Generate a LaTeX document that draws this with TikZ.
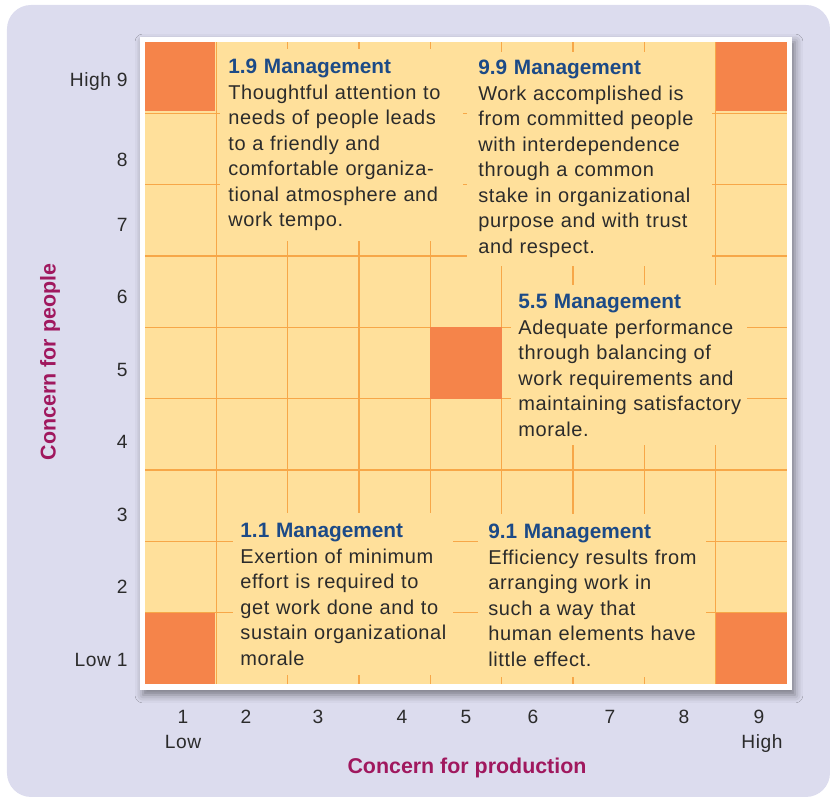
\documentclass[tikz,border=0pt]{standalone}
\usepackage{fontspec}
\setmainfont{Liberation Sans}
\newfontfamily\trackedfont[LetterSpace=3]{Liberation Sans}
\usetikzlibrary{shadows.blur}
\definecolor{panel}{HTML}{DCDCEE}
\definecolor{gridfill}{HTML}{FFE09B}
\definecolor{gridline}{HTML}{F7A748}
\definecolor{hotorange}{HTML}{F5844A}
\definecolor{titleblue}{HTML}{1C4A87}
\definecolor{axismagenta}{HTML}{A0185E}
\definecolor{bodygray}{HTML}{2B2B2B}
\newcommand{\blocktext}{\trackedfont\fontsize{10}{12.75}\selectfont\spaceskip=5.3pt plus 1pt minus 0.5pt\relax}
\newcommand{\axisfont}{\trackedfont\fontsize{9.6}{12}\selectfont}
\newcommand{\axistitlefont}{\bfseries\fontsize{10.7}{12}\selectfont}
\newcommand{\mgmt}[1]{{\normalfont\bfseries\fontsize{10.4}{12.75}\selectfont\color{titleblue}#1}}
\tikzset{
  mgmtbox/.style={fill=gridfill,text=bodygray,font=\blocktext,align=left,anchor=north west,inner ysep=5pt},
  gline/.style={draw=gridline,line width=0.75pt},
  hotcell/.style={fill=hotorange},
  axnum/.style={font=\axisfont,text=bodygray,inner sep=0pt,text depth=0pt},
  axtitle/.style={font=\axistitlefont,text=axismagenta,inner sep=0pt}
}

\begin{document}
\begin{tikzpicture}[x=35.665pt,y=35.665pt]
  \useasboundingbox (-2.033,-1.598) rectangle (9.617,9.589);
  \fill[panel,rounded corners=12pt] (-1.935,-1.584) rectangle (9.603,9.519);
  \fill[white,blur shadow={shadow xshift=1.5pt,shadow yshift=-2.5pt,shadow blur radius=4pt,shadow opacity=45}] (-0.07,-0.084) rectangle (9.07,9.07);
  \fill[gridfill] (0,0) rectangle (9,9);
  \foreach \i in {1,...,8} {
    \draw[gline] (\i,0) -- (\i,9);
    \draw[gline] (0,\i) -- (9,\i);
  }
  \fill[hotcell] (0,8.03) rectangle (0.98,9);
  \fill[hotcell] (8,8.03) rectangle (9,9);
  \fill[hotcell] (4,4) rectangle (5,5);
  \fill[hotcell] (0,0) rectangle (0.98,1);
  \fill[hotcell] (8,0) rectangle (9,1);

  \node[mgmtbox,text width=113.5pt,inner xsep=4pt] (m19) at (1.051,8.902) {\mgmt{1.9 Management}\\ Thoughtful attention to\\ needs of people leads\\ to a friendly and\\ comfortable organiza-\\ tional atmosphere and\\ work tempo.};
  \node[mgmtbox,text width=111.5pt,inner xsep=5.5pt,inner ysep=4pt] (m99) at (4.514,8.860) {\mgmt{9.9 Management}\\ Work accomplished is\\ from committed people\\ with interdependence\\ through a common\\ stake in organizational\\ purpose and with trust\\ and respect.};
  \node[mgmtbox,text width=111pt,inner xsep=3.5pt,inner ysep=4.5pt] (m55) at (5.131,5.594) {\mgmt{5.5 Management}\\ Adequate performance\\ through balancing of\\ work requirements and\\ maintaining satisfactory\\ morale.};
  \node[mgmtbox,text width=103pt,inner xsep=3.5pt] (m11) at (1.234,2.397) {\mgmt{1.1 Management}\\ Exertion of minimum\\ effort is required to\\ get work done and to\\ sustain organizational\\ morale};
  \node[mgmtbox,text width=104pt,inner xsep=5pt] (m91) at (4.668,2.383) {\mgmt{9.1 Management}\\ Efficiency results from\\ arranging work in\\ such a way that\\ human elements have\\ little effect.};

  \node[axnum,anchor=east] (y9) at (-0.238,8.48) {High 9};
  \node[axnum,anchor=east] (y8) at (-0.238,7.346) {8};
  \node[axnum,anchor=east] (y7) at (-0.238,6.435) {7};
  \node[axnum,anchor=east] (y6) at (-0.238,5.425) {6};
  \node[axnum,anchor=east] (y5) at (-0.238,4.402) {5};
  \node[axnum,anchor=east] (y4) at (-0.238,3.393) {4};
  \node[axnum,anchor=east] (y3) at (-0.238,2.369) {3};
  \node[axnum,anchor=east] (y2) at (-0.238,1.36) {2};
  \node[axnum,anchor=east] (y1) at (-0.238,0.336) {Low 1};

  \node[axnum] (x1) at (0.533,-0.463) {1};
  \node[axnum] (x2) at (1.416,-0.463) {2};
  \node[axnum] (x3) at (2.425,-0.463) {3};
  \node[axnum] (x4) at (3.603,-0.463) {4};
  \node[axnum] (x5) at (4.5,-0.463) {5};
  \node[axnum] (x6) at (5.44,-0.463) {6};
  \node[axnum] (x7) at (6.519,-0.463) {7};
  \node[axnum] (x8) at (7.556,-0.463) {8};
  \node[axnum] (x9) at (8.608,-0.463) {9};
  \node[axnum] (xlow) at (0.533,-0.813) {Low};
  \node[axnum] (xhigh) at (8.65,-0.813) {High};

  \node[axtitle] (prod) at (4.514,-1.178) {Concern for production};
  \node[axtitle,rotate=90] (ppl) at (-1.332,4.514) {Concern for people};
\end{tikzpicture}
\end{document}
